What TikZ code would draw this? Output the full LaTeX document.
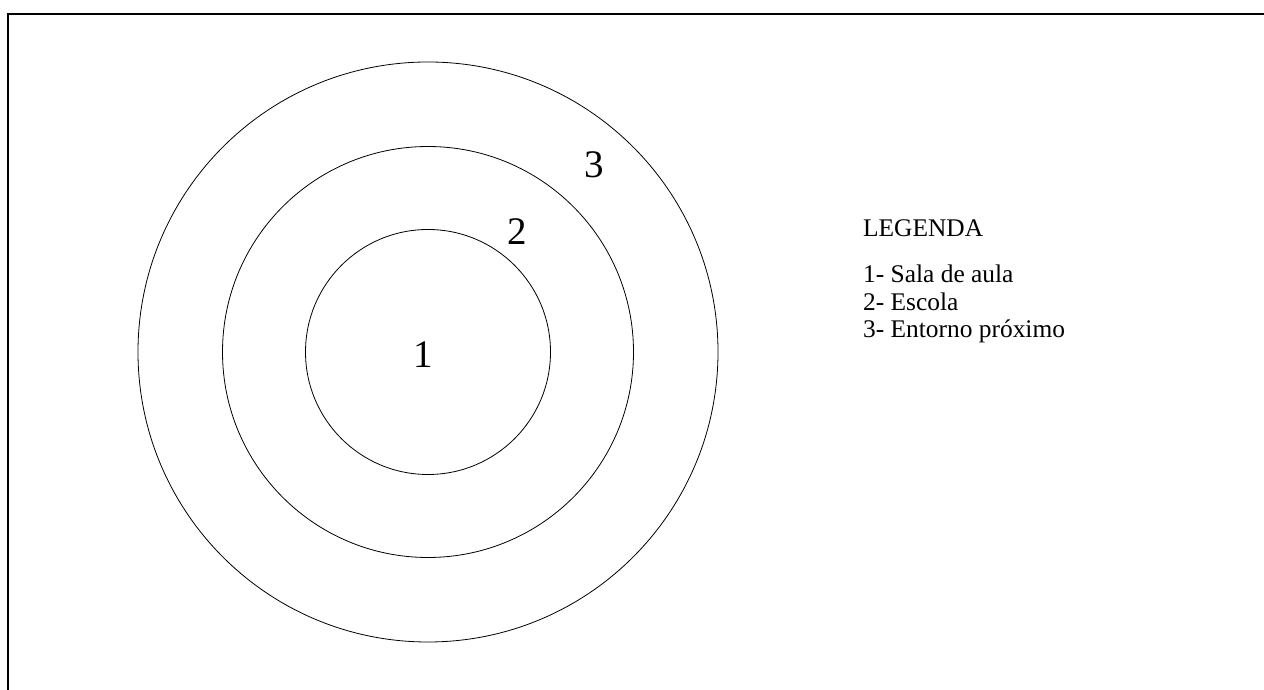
\documentclass[tikz,border=0pt]{standalone}
\usepackage{fontspec}
\setmainfont{Liberation Serif}
\usetikzlibrary{positioning}

\begin{document}
\begin{tikzpicture}[
  x=1pt, y=1pt,
  ring/.style={draw, circle, line width=0.8pt, inner sep=0pt, minimum size=#1},
  num/.style={font=\fontsize{39}{39}\selectfont, inner sep=0pt},
  leg/.style={font=\fontsize{25.4}{25.4}\selectfont, inner sep=0pt, anchor=base west},
]

\useasboundingbox (0,0) rectangle (1264,690);

%% ===== FRAME =====
\coordinate (frametl) at (8,676);
\coordinate (frametr) at (1264,676);
\coordinate (framebl) at (8,0);
\draw[line width=2pt] (framebl) -- (frametl) -- (frametr);

%% ===== RINGS =====
\node[ring=580pt] (outer) at (428,338) {};
\node[ring=411pt] (middle) at (428,338) {};
\node[ring=245pt] (inner) at (428,338) {};

\node[num] (n1) at (423,335) {1};
\node[num] (n2) at (517,458) {2};
\node[num] (n3) at (594,525) {3};

%% ===== LEGEND =====
\node[leg] (legtitle) at (863,453) {LEGENDA};
\node[leg] (leg1) at (863,407) {1- Sala de aula};
\node[leg] (leg2) at (863,379) {2- Escola};
\node[leg] (leg3) at (863,352) {3- Entorno próximo};

\end{tikzpicture}
\end{document}
